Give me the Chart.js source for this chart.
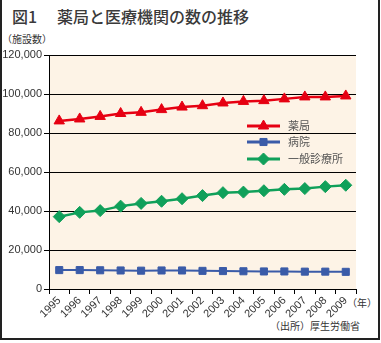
<!DOCTYPE html>
<html>
<head>
<meta charset="utf-8">
<script src="https://cdn.jsdelivr.net/npm/chart.js@4"></script>
<style>
body{margin:0;background:#fff;font-family:"Noto Sans CJK JP",sans-serif;}
#wrap{position:relative;width:381px;height:343px;overflow:hidden;}
#cadre{position:absolute;left:0;top:-10px;width:376px;height:348px;border:2px solid #222;border-top:none;}
#titre1{position:absolute;left:12px;top:4px;font-size:16px;font-weight:500;color:#3a3a3a;}
#titre2{position:absolute;left:57px;top:4px;font-size:16px;font-weight:500;color:#3a3a3a;}
.note{position:absolute;font-size:10px;color:#333;}
canvas{position:absolute;left:0;top:0;}
</style>
</head>
<body>
<div id="wrap">
<div id="cadre"></div>
<div id="titre1">図1</div>
<div id="titre2">薬局と医療機関の数の推移</div>
<div class="note" style="left:2px;top:31px;">（施設数）</div>
<div class="note" style="left:347px;top:295px;">（年）</div>
<div class="note" style="left:270px;top:318px;">（出所）厚生労働省</div>
<canvas id="graphe" width="381" height="343"></canvas>
</div>
<script>
// données
var annees = ["1995","1996","1997","1998","1999","2000","2001","2002","2003","2004","2005","2006","2007","2008","2009"];
var pharmacies = [86200,87200,88500,90000,90600,92000,93300,94000,95400,96200,96600,97500,98500,98500,99000];
var hopitaux = [9700,9700,9600,9500,9400,9500,9500,9300,9200,9100,9000,9000,8900,8900,8800];
var cliniques = [37100,39300,40200,42500,43900,45000,46300,47900,49400,49700,50400,51100,51500,52500,53200];
var ticksY = [0,20000,40000,60000,80000,100000,120000];

var fond = {
    id: "fond",
    beforeDraw: function(chart){
        var ctx = chart.ctx, a = chart.chartArea;
        ctx.save();
        ctx.fillStyle = "#fdf3e6";
        ctx.fillRect(a.left, a.top, a.right - a.left, a.bottom - a.top);
        ctx.restore();
    }
};

// légende dessinée à la main
var legende = {
    id: "legende",
    afterDraw: function(chart){
        var ctx = chart.ctx;
        var x0 = 247, x1 = 280;
        var ys = [126, 142, 159];
        chart.data.datasets.forEach(function(ds, i){
            ctx.save();
            ctx.strokeStyle = ds.borderColor;
            ctx.fillStyle = ds.borderColor;
            ctx.lineWidth = 3;
            ctx.beginPath();
            ctx.moveTo(x0, ys[i]);
            ctx.lineTo(x1, ys[i]);
            ctx.stroke();
            ctx.lineWidth = 1;
            Chart.helpers.drawPoint(ctx, {pointStyle: ds.pointStyle, radius: ds.pointRadius, borderWidth: 1}, (x0 + x1) / 2, ys[i]);
            ctx.fillStyle = "#555";
            ctx.font = "11px 'Noto Sans CJK JP'";
            ctx.textBaseline = "middle";
            ctx.fillText(ds.label, 288, ys[i]);
            ctx.restore();
        });
    }
};

var chart = new Chart(document.getElementById("graphe"), {
    type: "line",
    data: {
        labels: annees,
        datasets: [
            {label: "薬局", data: pharmacies, borderColor: "#e60012", backgroundColor: "#e60012", borderWidth: 2.5, pointStyle: "triangle", pointRadius: 6, pointBorderWidth: 1},
            {label: "病院", data: hopitaux, borderColor: "#3a5ba8", backgroundColor: "#3a5ba8", borderWidth: 2, pointStyle: "rect", pointRadius: 5, pointBorderWidth: 1},
            {label: "一般診療所", data: cliniques, borderColor: "#10a05a", backgroundColor: "#10a05a", borderWidth: 2.5, pointStyle: "rectRot", pointRadius: 6, pointBorderWidth: 1}
        ]
    },
    options: {
        responsive: false,
        animation: false,
        layout: {padding: {top: 55, left: 0, right: 25, bottom: 0}},
        plugins: {legend: {display: false}, tooltip: {enabled: false}},
        scales: {
            x: {
                offset: true,
                grid: {offset: true, drawOnChartArea: false, drawTicks: true, tickLength: 5, color: "#000"},
                border: {color: "#000", width: 1},
                ticks: {autoSkip: false, minRotation: 45, maxRotation: 45, color: "#333", padding: 0, font: {family: "Liberation Sans", size: 11}},
                afterFit: function(s){ s.height = 54; }
            },
            y: {
                min: 0, max: 120000,
                afterBuildTicks: function(s){ s.ticks = ticksY.map(function(v){ return {value: v}; }); },
                grid: {color: "#000", lineWidth: 1, tickLength: 5},
                border: {color: "#000", width: 1},
                ticks: {color: "#333", padding: 2, font: {family: "Liberation Sans", size: 11},
                    callback: function(v){ return v.toLocaleString("en-US"); }},
                afterFit: function(s){ s.width = 49; }
            }
        }
    },
    plugins: [fond, legende]
});
</script>
</body>
</html>
